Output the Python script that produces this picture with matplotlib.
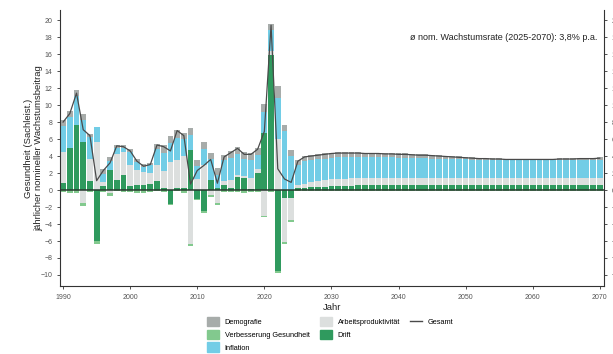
import matplotlib
matplotlib.use("Agg")
import matplotlib.pyplot as plt
from matplotlib.patches import Patch
from matplotlib.lines import Line2D
import numpy as np

plt.rcParams['font.family'] = ['Liberation Sans', 'DejaVu Sans']

years = list(range(1990, 2071))

# Wachstumsbeiträge je Komponente (Prozentpunkte), 1990-2025 Ist, danach Projektion
drift = [0.8, 5.0, 7.7, 5.6, 1.1, -6.0, 0.5, 2.4, 1.2, 1.8,
         0.5, 0.6, 0.6, 0.7, 1.1, 0.2, -1.6, 0.2, 0.2, 4.7,
         -1.1, -2.5, 1.2, 0.2, 0.6, 0.2, 1.5, 1.4, 0.1, 2.0,
         6.7, 15.9, -9.5, -0.9, -0.9, 0.2,
         0.25, 0.3, 0.35, 0.4, 0.45, 0.5, 0.5, 0.5, 0.55, 0.55,
         0.55, 0.55, 0.55, 0.55, 0.55, 0.55, 0.55, 0.55, 0.55, 0.55,
         0.55, 0.55, 0.55, 0.55, 0.55, 0.55, 0.55, 0.55, 0.55, 0.55,
         0.55, 0.55, 0.55, 0.55, 0.55, 0.55, 0.55, 0.55, 0.55, 0.55,
         0.55, 0.55, 0.55, 0.55, 0.55]
gesundheit = [-0.2, -0.3, -0.4, -0.4, -0.2, -0.3, -0.2, -0.3, -0.1, -0.2,
              -0.2, -0.3, -0.3, -0.2, -0.1, -0.2, -0.2, -0.1, -0.3, -0.3,
              -0.1, -0.2, -0.2, -0.3, -0.2, -0.2, -0.2, -0.3, -0.2, -0.2,
              -0.2, -0.2, -0.3, -0.3, -0.3, -0.1,
              -0.1, -0.1, -0.1, -0.1, -0.1, -0.1, -0.1, -0.1, -0.1, -0.1,
              -0.1, -0.1, -0.1, -0.1, -0.1, -0.1, -0.1, -0.1, -0.1, -0.1,
              -0.1, -0.1, -0.1, -0.1, -0.1, -0.1, -0.1, -0.1, -0.1, -0.1,
              -0.1, -0.1, -0.1, -0.1, -0.1, -0.1, -0.1, -0.1, -0.1, -0.1,
              -0.1, -0.1, -0.1, -0.1, -0.1]
arbeit = [3.7, 0.0, 0.0, -1.5, 2.6, 5.6, 0.4, -0.4, 3.0, 2.7,
          2.4, 1.7, 1.5, 1.3, 1.8, 2.0, 3.3, 3.3, 3.8, -6.3,
          1.3, 3.0, -0.6, -1.5, 0.5, 1.0, 0.3, 0.3, 1.3, 0.5,
          -3.0, 0.5, 6.0, -5.2, -2.6, 0.4,
          0.5, 0.6, 0.7, 0.75, 0.8, 0.85, 0.85, 0.9, 0.9, 0.9,
          0.9, 0.9, 0.9, 0.9, 0.9, 0.9, 0.9, 0.9, 0.9, 0.9,
          0.9, 0.9, 0.9, 0.9, 0.9, 0.9, 0.9, 0.9, 0.9, 0.9,
          0.9, 0.9, 0.9, 0.9, 0.9, 0.9, 0.9, 0.9, 0.9, 0.9,
          0.9, 0.9, 0.9, 0.9, 0.9]
inflation = [3.0, 3.6, 3.4, 2.7, 2.5, 1.8, 1.0, 1.0, 0.7, 0.5,
             1.6, 1.0, 0.6, 0.9, 1.9, 2.2, 2.2, 2.6, 2.0, 1.8,
             1.5, 1.8, 2.4, 1.6, 2.4, 2.6, 2.4, 2.0, 2.1, 1.6,
             2.5, 2.4, 4.8, 7.0, 4.0, 2.4,
             2.65, 2.6, 2.55, 2.55, 2.55, 2.5, 2.5, 2.45, 2.45, 2.4,
             2.4, 2.4, 2.4, 2.4, 2.35, 2.35, 2.3, 2.3, 2.3, 2.25,
             2.25, 2.2, 2.2, 2.15, 2.15, 2.1, 2.1, 2.1, 2.05, 2.05,
             2.05, 2.05, 2.05, 2.05, 2.05, 2.05, 2.05, 2.05, 2.05, 2.05,
             2.05, 2.05, 2.05, 2.05, 2.1]
demografie = [0.7, 0.7, 0.7, 0.7, 0.4, 0.0, 0.6, 0.5, 0.4, 0.3,
              0.3, 0.4, 0.4, 0.3, 0.6, 0.9, 0.9, 1.0, 0.7, 0.8,
              0.7, 0.8, 0.8, 0.8, 0.6, 0.8, 0.9, 0.8, 0.9, 0.9,
              0.9, 0.8, 1.5, 0.7, 0.7, 0.5,
              0.6, 0.6, 0.6, 0.6, 0.6, 0.6, 0.6, 0.6, 0.55, 0.55,
              0.55, 0.55, 0.5, 0.5, 0.5, 0.5, 0.5, 0.45, 0.45, 0.45,
              0.4, 0.4, 0.35, 0.35, 0.3, 0.3, 0.25, 0.25, 0.25, 0.25,
              0.2, 0.2, 0.2, 0.2, 0.2, 0.2, 0.2, 0.2, 0.25, 0.25,
              0.25, 0.3, 0.3, 0.3, 0.3]

komponenten = {
    "Drift": (drift, "#2f9a5e"),
    "Verbesserung Gesundheit": (gesundheit, "#82c98e"),
    "Arbeitsproduktivität": (arbeit, "#dcdfde"),
    "Inflation": (inflation, "#72cde6"),
    "Demografie": (demografie, "#a7acaa"),
}

x = np.array(years)
gesamt = np.sum([np.array(v) for v, _ in komponenten.values()], axis=0)

fig = plt.figure(figsize=(6.13, 3.54), dpi=100)
ax = fig.add_axes([0.098, 0.192, 0.887, 0.78])

# positive Beiträge von 0 nach oben, negative von 0 nach unten stapeln
pos_bottom = np.zeros(len(x))
neg_bottom = np.zeros(len(x))
for name in ["Drift", "Arbeitsproduktivität", "Inflation", "Demografie",
             "Verbesserung Gesundheit"]:
    vals, col = komponenten[name]
    vals = np.array(vals)
    pos = np.where(vals > 0, vals, 0)
    neg = np.where(vals < 0, vals, 0)
    ax.bar(x, pos, bottom=pos_bottom, width=0.86, color=col, linewidth=0)
    ax.bar(x, neg, bottom=neg_bottom, width=0.86, color=col, linewidth=0)
    pos_bottom += pos
    neg_bottom += neg

ax.axhline(0, color="#263a2e", lw=1.1, zorder=3)
ax.plot(x, gesamt, color="#4a4a4a", lw=0.9, zorder=4)

ax.text(2069.6, 17.9, "ø nom. Wachstumsrate (2025-2070): 3,8% p.a.",
        ha="right", va="center", fontsize=6.5, color="#222222")

ax.set_xlim(1989.55, 2070.6)
ax.set_ylim(-11.3, 21.2)
ax.set_xticks(range(1990, 2071, 10))
ax.set_yticks(range(-10, 21, 2))
ax.tick_params(axis="both", labelsize=5, colors="#333333", labelcolor="#555555",
               length=2, width=0.6)
ax.tick_params(axis="y", right=True, labelright=True)
for s in ["left", "bottom", "right"]:
    ax.spines[s].set_color("#333333")
    ax.spines[s].set_linewidth(0.8)
ax.spines["top"].set_visible(False)

ax.set_xlabel("Jahr", fontsize=6.8, color="#222222", labelpad=2)
ax.set_ylabel("Gesundheit (Sachleist.)\njährlicher nomineller Wachstumsbeitrag",
              fontsize=6.8, color="#222222", labelpad=-2)

leer = Patch(facecolor="none", edgecolor="none")
handles = [Patch(color="#a7acaa"), Patch(color="#82c98e"), Patch(color="#72cde6"),
           Patch(color="#dcdfde"), Patch(color="#2f9a5e"), leer,
           Line2D([], [], color="#4a4a4a", lw=1), leer, leer]
labels = ["Demografie", "Verbesserung Gesundheit", "Inflation",
          "Arbeitsproduktivität", "Drift", "", "Gesamt", "", ""]
fig.legend(handles, labels, ncol=3, loc="upper left",
           bbox_to_anchor=(0.333, 0.113), frameon=False, fontsize=5.3,
           handlelength=1.6, handleheight=1.6, labelspacing=0.45,
           columnspacing=1.4, handletextpad=0.8, borderaxespad=0)

fig.savefig("out.png", dpi=100)
